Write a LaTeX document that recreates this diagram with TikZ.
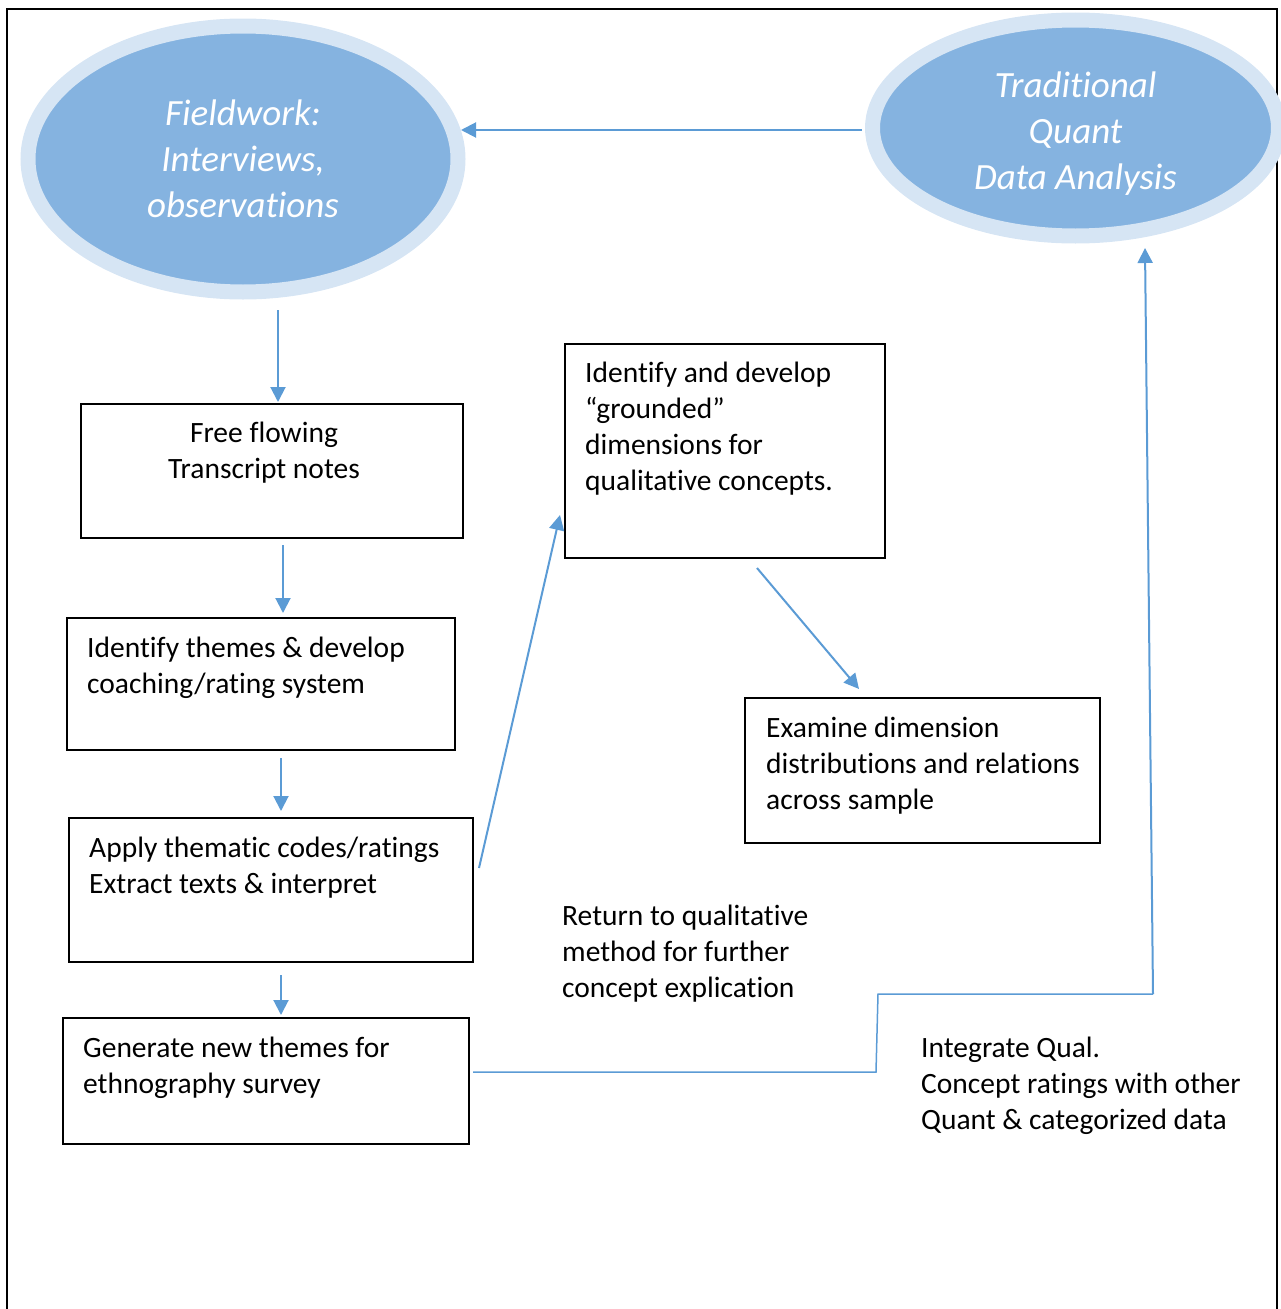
\documentclass[tikz,border=0pt]{standalone}
\usepackage{fontspec}
\setmainfont{Carlito}[Ligatures={NoCommon,NoContextual}, Contextuals=NoAlternate, RawFeature={-clig}]
\usetikzlibrary{arrows.meta,shapes.geometric}
\definecolor{fillblue}{RGB}{133,179,224}
\definecolor{ringblue}{RGB}{214,229,244}
\definecolor{arrowblue}{RGB}{91,155,213}
\begin{document}
\begin{tikzpicture}[x=1pt,y=-1pt,
  box/.style={draw=black, line width=2pt, rectangle, inner sep=0pt},
  txt/.style={inner sep=0pt, align=left, font=\fontsize{29.5}{36}\selectfont, anchor=base west},
  oval/.style={ellipse, fill=fillblue, draw=ringblue, line width=15pt, inner sep=0pt},
  ovaltxt/.style={text=white, font=\itshape\fontsize{37}{46}\selectfont, align=center, inner sep=0pt},
  arr/.style={draw=arrowblue, line width=2pt, -{Triangle[length=15pt,width=15pt]}},
  thinline/.style={draw=arrowblue, line width=1.5pt}]
\useasboundingbox (0,0) rectangle (1280,1309);
\draw[line width=2pt] (7,1330) -- (7,9) -- (1277,9) -- (1277,1330);

% ellipses
\node[oval, minimum width=430pt, minimum height=266pt] (fw) at (243,159) {};
\node[ovaltxt] (fwt) at (243,159) {Fieldwork:\\Interviews,\\observations};
\node[oval, minimum width=406pt, minimum height=216pt] (tq) at (1075.5,128) {};
\node[ovaltxt] (tqt) at (1075.5,134) {Traditional\\Quant\\Data Analysis};

% boxes
\node[box, minimum width=382pt, minimum height=134pt] (b1) at (272,471) {};
\node[box, minimum width=388pt, minimum height=132pt] (b2) at (261,684) {};
\node[box, minimum width=404pt, minimum height=144pt] (b3) at (271,890) {};
\node[box, minimum width=406pt, minimum height=126pt] (b4) at (266,1081) {};
\node[box, minimum width=320pt, minimum height=214pt] (b5) at (725,451) {};
\node[box, minimum width=355pt, minimum height=145pt] (b6) at (922.5,770.5) {};

% texts (anchored at the baseline of the last line)
\node[txt, anchor=base, align=center] (t1) at (264,478) {Free flowing\\Transcript notes};
\node[txt] (t2) at (87,693) {Identify themes \& develop\\coaching/rating system};
\node[txt] (t3) at (89,893) {Apply thematic codes/ratings\\Extract texts \& interpret};
\node[txt] (t4) at (83,1093) {Generate new themes for\\ethnography survey};
\node[txt] (t5) at (585,490) {Identify and develop\\“grounded”\\dimensions for\\qualitative concepts.};
\node[txt] (t6) at (766,809) {Examine dimension\\distributions and relations\\across sample};
\node[txt] (t7) at (562,997) {Return to qualitative\\method for further\\concept explication};
\node[txt] (t8) at (921,1129) {Integrate Qual.\\Concept ratings with other\\Quant \& categorized data};

% connector end points
\coordinate (tqw) at (862,130);
\coordinate (fwe) at (461,130);
\coordinate (fws) at (278,310);
\coordinate (b1n) at (278,402);
\coordinate (b1s) at (283,545);
\coordinate (b2n) at (283,613);
\coordinate (b2s) at (281,758);
\coordinate (b3n) at (281,811);
\coordinate (b3s) at (281,975);
\coordinate (b4n) at (281,1015);
\coordinate (b3e) at (479,868);
\coordinate (b5w) at (560,515);
\coordinate (b5s) at (757,568);
\coordinate (b6n) at (859,689);
\coordinate (b4e) at (473,1072);
\coordinate (k1) at (876,1072);
\coordinate (k2) at (878,994);
\coordinate (k3) at (1153,994);
\coordinate (tqs) at (1145,248);

\draw[arr] (tqw) -- (fwe);
\draw[arr] (fws) -- (b1n);
\draw[arr] (b1s) -- (b2n);
\draw[arr] (b2s) -- (b3n);
\draw[arr] (b3s) -- (b4n);
\draw[arr] (b3e) -- (b5w);
\draw[arr] (b5s) -- (b6n);
\draw[thinline] (b4e) -- (k1) -- (k2) -- (k3);
\draw[arr] (k3) -- (tqs);
\end{tikzpicture}
\end{document}
